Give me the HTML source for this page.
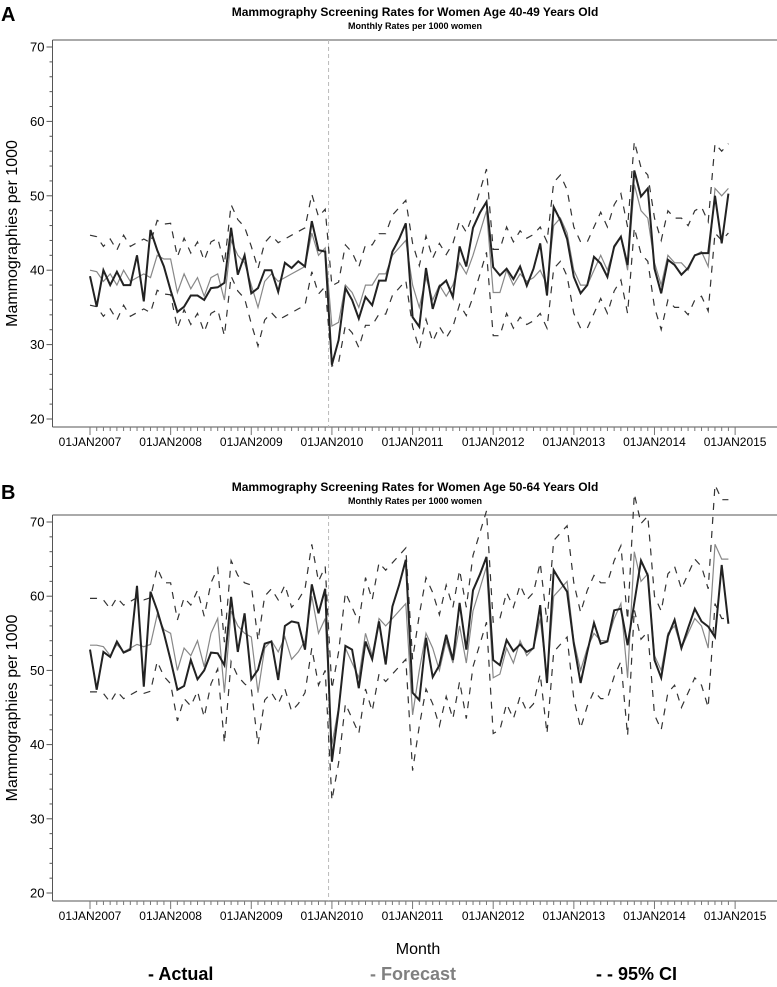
<!DOCTYPE html>
<html><head><meta charset="utf-8"><style>
body{margin:0;background:#fff;}
svg{display:block;font-family:"Liberation Sans",sans-serif;}
</style></head><body>
<svg id="chart" width="777" height="987" viewBox="0 0 777 987" xmlns="http://www.w3.org/2000/svg">
<text x="1" y="21" font-size="20" font-weight="bold">A</text>
<text x="415" y="16" font-size="12" font-weight="bold" text-anchor="middle">Mammography Screening Rates for Women Age 40-49 Years Old</text>
<text x="415" y="29" font-size="9" font-weight="bold" text-anchor="middle">Monthly Rates per 1000 women</text>
<text x="1" y="499" font-size="20" font-weight="bold">B</text>
<text x="415" y="491" font-size="12" font-weight="bold" text-anchor="middle">Mammography Screening Rates for Women Age 50-64 Years Old</text>
<text x="415" y="504" font-size="9" font-weight="bold" text-anchor="middle">Monthly Rates per 1000 women</text>
<text x="418" y="954" font-size="16" text-anchor="middle">Month</text>
<text x="148" y="980" font-size="18" font-weight="bold" fill="#000">- Actual</text>
<text x="370" y="980" font-size="18" font-weight="bold" fill="#808080">- Forecast</text>
<text x="596" y="980" font-size="18" font-weight="bold" fill="#000">- - 95% CI</text>
<g id="pa"></g><g id="pb"></g>
</svg>
<script>
const months = 96;
const yearLabels = ["01JAN2007","01JAN2008","01JAN2009","01JAN2010","01JAN2011","01JAN2012","01JAN2013","01JAN2014","01JAN2015"];
const yTicks = [20,30,40,50,60,70];
const interventionMonth = 35.5;
const actualA = [39.2,35.1,40,38,39.8,38,38,42,35.8,45.4,42.7,40.5,37.3,34.4,35.1,36.6,36.6,36,37.6,37.7,38.3,45.7,39.4,42,36.9,37.6,40,40,37.1,41,40.3,41.2,40.5,46.6,42.7,42.5,27.3,30.6,37.6,36,33.5,36.4,35.3,38.6,38.6,42.5,44.2,46.3,33.7,32.4,40.3,34.8,37.8,38.6,36.4,43.2,40.5,45.7,47.7,49.2,40.4,39.3,40.2,38.8,40.5,37.9,40.2,43.6,36.6,48.5,46.7,44.2,39.1,36.9,38,41.8,40.9,39.1,43.2,44.5,40.7,53.4,49.9,51,40.2,36.9,41.4,40.7,39.4,40.3,42,42.3,42.3,50,43.6,50.3];
const forecastA = [40,39.8,38.5,39.5,38,40,38.5,39,39.5,39,42,41.5,41.5,37,39.5,37.5,39,36.5,39,39.5,36,44,42,41,38,35,38.5,39.5,38.5,39,39.5,40,40.5,45,42,43,32.5,33,38,37,35,38,38,39.5,39.5,42,43,44,38,35,39,36,38,36.5,38,41,39.5,42,45,48,37,37,40,38,39.5,38.5,39,40,38,46,47,45,40,38,38,40,42,40,43,44.5,40,51.5,48,47,41,38,42,41,41,40,42,42.5,40.5,51,50,51];
const halfA = [4.7,4.8,5.2,5.4,5.6,5.8,5.8,6];
const actualB = [52.8,47.4,52.5,51.8,53.9,52.4,52.8,61.4,47.8,60.6,58.1,55,51.4,47.4,47.9,51.4,48.8,50,52.4,52.3,50.7,59.9,52.5,57.7,48.8,50.1,53.6,53.9,48.7,56,56.6,56.4,52.8,61.6,57.7,61,37.7,44.7,53.3,52.8,47.6,53.9,51.5,56.6,50.8,58.6,61.5,64.9,47,46,54.4,49.1,50.7,54.8,51.4,59.1,52.8,60.8,62.9,65.3,51.4,50.7,54.1,52.6,53.5,52.5,53,58.8,48.3,63.5,62,60.6,53.6,48.3,52.5,56.4,53.6,53.9,58.1,58.3,53.4,59.1,64.8,62.8,51.4,49,54.6,56.8,53,55.7,58.3,56.6,55.9,54.5,64.2,56.3];
const forecastB = [53.4,53.4,53.2,52,53.5,52.5,53,53.5,53.2,53.5,57.5,55.5,55,50,53,52,54,50.5,55,57,47,58,56,55,54.5,47,53,54,52.5,54.5,51.5,52.5,54,60,55,57,40,45,53,51,49,55,52,57,56,57,58,59,44,50,55,53,50,54,51,56,51,58,61,64,49,49.5,53,51,54,52,53,57,49,60,61,62,54,50,53,55,54,54,57,59,49,66,62,63,52,50,55,56,53,55,57,56,53,67,65,65];
const halfB = [6.3,6.8,7,7.5,7.5,7.5,7.8,8];

const NS="http://www.w3.org/2000/svg";
function mk(parent,tag,attrs){const e=document.createElementNS(NS,tag);for(const k in attrs)e.setAttribute(k,attrs[k]);parent.appendChild(e);return e;}
function drawPanel(g,top,bottom,actual,forecast,half,tag){
  const x0=90,dx=6.72,left=52.5;
  const yS=v=>bottom-8-(v-20)*(bottom-8-(top+7))/50;
  const xS=i=>x0+i*dx;
  let e=mk(g,'line',{x1:left,y1:top,x2:777,y2:top,stroke:'#555','stroke-width':1});
  
  e=mk(g,'line',{x1:left,y1:top,x2:left,y2:bottom,stroke:'#555','stroke-width':1});
  
  e=mk(g,'line',{x1:left,y1:bottom,x2:777,y2:bottom,stroke:'#555','stroke-width':1});
  
  for(let v=20;v<=70;v+=2){const y=yS(v);const major=v%10===0;
    e=mk(g,'line',{x1:left-(major?6:3),y1:y,x2:left,y2:y,stroke:'#555','stroke-width':1});
    }
  yTicks.forEach(v=>{e=mk(g,'text',{x:left-8,y:yS(v)+4.5,'font-size':13,'text-anchor':'end'});e.textContent=v;
    });
  for(let m=0;m<=months;m++){const x=xS(m);const major=m%12===0;
    e=mk(g,'line',{x1:x,y1:bottom,x2:x,y2:bottom+(major?8:4),stroke:'#777','stroke-width':1});
    }
  yearLabels.forEach((l,k)=>{e=mk(g,'text',{x:xS(k*12),y:bottom+19,'font-size':12,'text-anchor':'middle'});e.textContent=l;
    });
  const cy=(top+bottom)/2;
  e=mk(g,'text',{x:0,y:0,'font-size':16,'text-anchor':'middle',transform:`translate(17,${cy}) rotate(-90)`});e.textContent='Mammographies per 1000';
  
  e=mk(g,'line',{x1:xS(interventionMonth),y1:top,x2:xS(interventionMonth),y2:bottom,stroke:'#bbb','stroke-width':1,'stroke-dasharray':'4,3'});
  
  const path=arr=>arr.map((v,i)=>(i?'L':'M')+xS(i).toFixed(1)+','+yS(v).toFixed(1)).join('');
  const up=forecast.map((v,i)=>v+half[Math.floor(i/12)]);
  const lo=forecast.map((v,i)=>v-half[Math.floor(i/12)]);
  e=mk(g,'path',{d:path(up),fill:'none',stroke:'#333','stroke-width':1.2,'stroke-dasharray':'7,7'});
  
  e=mk(g,'path',{d:path(lo),fill:'none',stroke:'#333','stroke-width':1.2,'stroke-dasharray':'7,7'});
  
  e=mk(g,'path',{d:path(forecast),fill:'none',stroke:'#888','stroke-width':1.2});
  
  e=mk(g,'path',{d:path(actual),fill:'none',stroke:'#222','stroke-width':2});
  
}
drawPanel(document.getElementById('pa'),40,427,actualA,forecastA,halfA,'panel-a');
drawPanel(document.getElementById('pb'),515,901,actualB,forecastB,halfB,'panel-b');
</script>
</body></html>
